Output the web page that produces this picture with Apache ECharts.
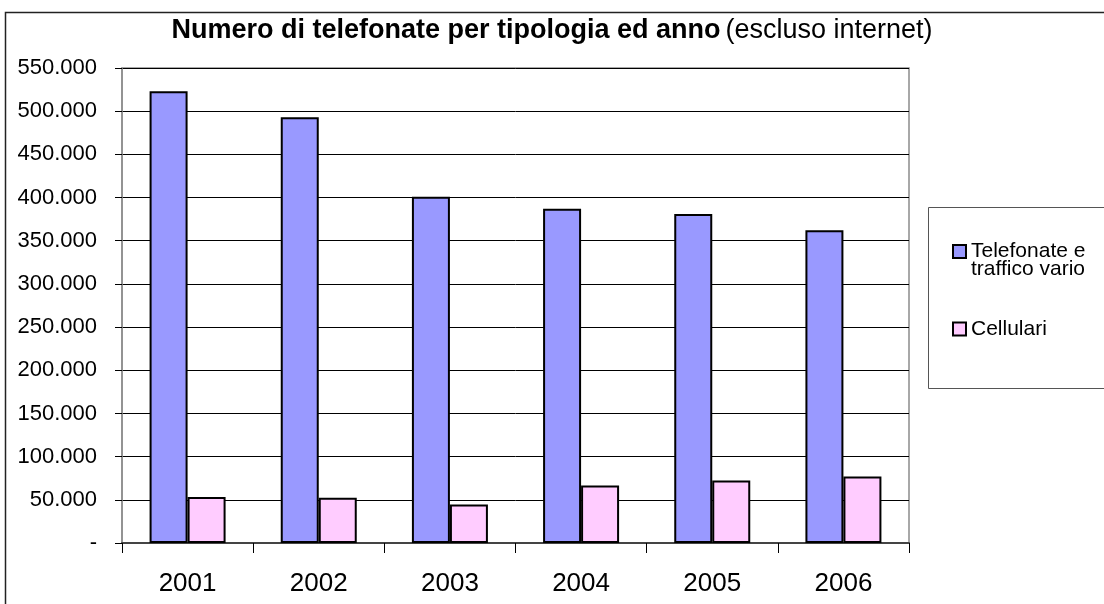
<!DOCTYPE html>
<html>
<head>
<meta charset="utf-8">
<script src="https://cdn.jsdelivr.net/npm/echarts@6/dist/echarts.min.js"></script>
<style>
html,body{margin:0;padding:0;background:#fff;}
#main{width:1104px;height:604px;}
</style>
</head>
<body>
<div id="main"></div>
<script>
const years = ['2001', '2002', '2003', '2004', '2005', '2006'];
const telefonate = [523000, 493000, 401000, 387000, 381000, 362000];
const cellulari = [53300, 52500, 44700, 66700, 72500, 77100];
const seriesNames = ['Telefonate e\ntraffico vario', 'Cellulari'];
const titleBold = 'Numero di telefonate per tipologia ed anno';
const titleNormal = '(escluso internet)';

const FONT = '"Liberation Sans", Arial, sans-serif';

function fmt(v) {
  if (v === 0) return '-';
  return String(v).replace(/\B(?=(\d{3})+(?!\d))/g, '.');
}

const chart = echarts.init(document.getElementById('main'), null, {renderer: 'canvas'});
chart.setOption({
  backgroundColor: '#ffffff',
  animation: false,
  title: {
    text: '{b|' + titleBold + '} {n|' + titleNormal + '}',
    left: 'center',
    top: 16,
    padding: 0,
    textStyle: {
      rich: {
        b: {fontFamily: FONT, fontSize: 27, fontWeight: 'bold', color: '#000', lineHeight: 30},
        n: {fontFamily: FONT, fontSize: 27, fontWeight: 'normal', color: '#000', lineHeight: 30}
      }
    }
  },
  graphic: [
    {type: 'rect', left: 3, top: 10, shape: {width: 1200, height: 700}, style: {fill: 'none', stroke: '#222', lineWidth: 1.5}, silent: true, z: -1},
    {type: 'rect', left: 928, top: 207, shape: {width: 300, height: 181}, style: {fill: '#fff', stroke: '#555', lineWidth: 1}, silent: true, z: -1}
  ],
  legend: [
    {
      data: [{name: seriesNames[0]}],
      left: 952, top: 241,
      orient: 'vertical',
      itemWidth: 13, itemHeight: 31,
      itemGap: 0,
      padding: 0,
      icon: 'path://M0,0L13,0L13,13L0,13ZM0,31L0,31',
      textStyle: {fontFamily: FONT, fontSize: 21, color: '#000', lineHeight: 18}
    },
    {
      data: [{name: seriesNames[1]}],
      left: 952, top: 314,
      orient: 'vertical',
      itemWidth: 13, itemHeight: 13,
      itemGap: 0,
      padding: 0,
      icon: 'rect',
      textStyle: {fontFamily: FONT, fontSize: 21, color: '#000', lineHeight: 30}
    }
  ],
  grid: {
    left: 122, right: 195, top: 68, bottom: 61,
    show: true, borderColor: '#8c8c8c', borderWidth: 1.5, backgroundColor: 'transparent',
    containLabel: false
  },
  xAxis: {
    type: 'category',
    data: years,
    axisLine: {show: true, lineStyle: {color: '#444', width: 2}},
    axisTick: {show: true, inside: false, length: 10, lineStyle: {color: '#000', width: 1}},
    axisLabel: {fontFamily: FONT, fontSize: 26, color: '#000', margin: 28},
    splitLine: {show: false}
  },
  yAxis: {
    type: 'value',
    min: 0, max: 550000, interval: 50000,
    axisLine: {show: true, lineStyle: {color: '#8c8c8c', width: 1.5}},
    axisTick: {show: true, inside: false, length: 7, lineStyle: {color: '#000', width: 1}},
    axisLabel: {fontFamily: FONT, fontSize: 22, color: '#000', margin: 25, formatter: fmt},
    splitLine: {show: true, lineStyle: {color: '#000', width: 1}}
  },
  series: [
    {
      name: seriesNames[0], type: 'bar', data: telefonate,
      barWidth: 38, barGap: '0%',
      itemStyle: {color: '#9999ff', borderColor: '#000', borderWidth: 2}
    },
    {
      name: seriesNames[1], type: 'bar', data: cellulari,
      barWidth: 38, barGap: '0%',
      itemStyle: {color: '#ffccff', borderColor: '#000', borderWidth: 2}
    }
  ]
});
</script>
</body>
</html>
